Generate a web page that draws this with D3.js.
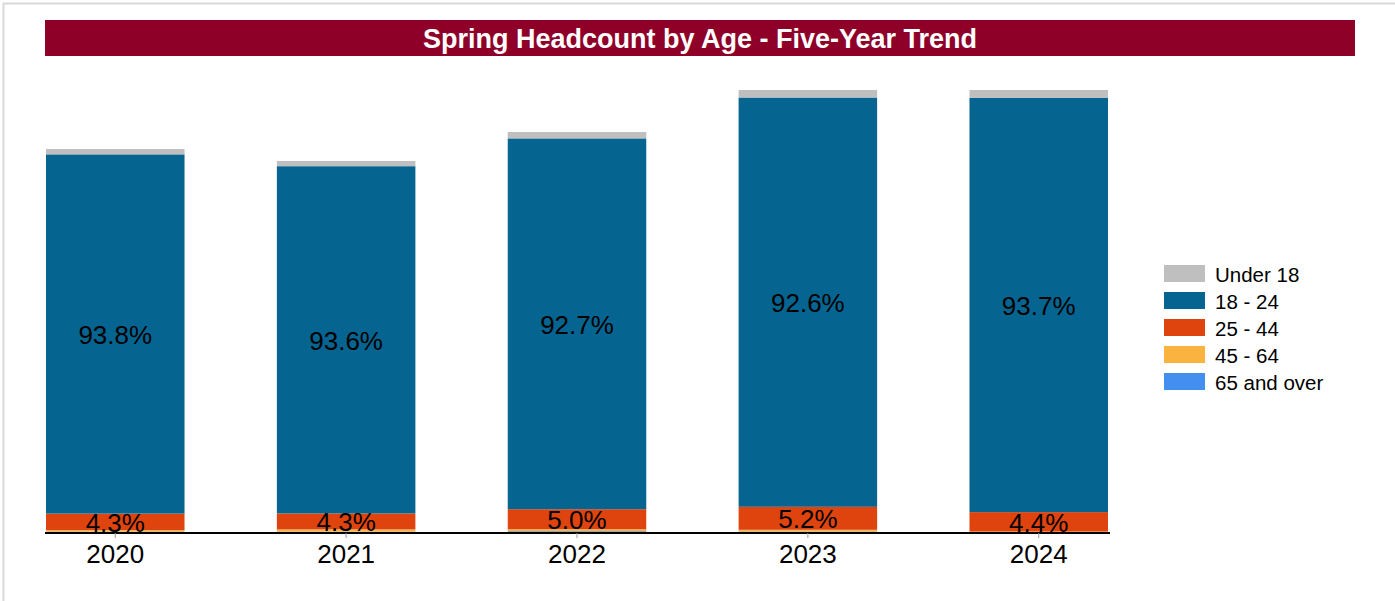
<!DOCTYPE html>
<html>
<head>
<meta charset="utf-8">
<script src="https://cdn.jsdelivr.net/npm/d3@7"></script>
<style>
  body { margin: 0; background: #fff; font-family: "Liberation Sans", Arial, sans-serif; }
  svg { display: block; }
</style>
</head>
<body>
<script>
(function(){

//pseudo-global data
var years = ["2020", "2021", "2022", "2023", "2024"];
var groups = ["65 and over", "45 - 64", "25 - 44", "18 - 24", "Under 18"]; //bottom to top
var legendOrder = ["Under 18", "18 - 24", "25 - 44", "45 - 64", "65 and over"];
var totals = [19150, 18550, 20000, 22100, 22100]; //estimated headcount
var pctUnder18 = [1.4, 1.4, 1.6, 1.7, 1.8];
var pct18to24 = [93.8, 93.6, 92.7, 92.6, 93.7];
var pct25to44 = [4.3, 4.3, 5.0, 5.2, 4.4];
var pct45to64 = [0.4, 0.6, 0.5, 0.4, 0.1];
var pct65over = [0.1, 0.1, 0.2, 0.1, 0.0];
var colors = {
  "Under 18": "#bfbfbf",
  "18 - 24": "#066491",
  "25 - 44": "#e0440e",
  "45 - 64": "#fbb33f",
  "65 and over": "#438ff0"
};
var titleText = "Spring Headcount by Age - Five-Year Trend";

var width = 1395, height = 601;

var svg = d3.select("body").append("svg")
    .attr("width", width)
    .attr("height", height);

//outer frame
svg.append("rect")
    .attr("x", 3.5).attr("y", 3.5)
    .attr("width", width + 10).attr("height", height + 10)
    .attr("fill", "none")
    .attr("stroke", "#d9d9d9")
    .attr("stroke-width", 2);

//title bar
svg.append("rect")
    .attr("x", 45).attr("y", 20)
    .attr("width", 1310).attr("height", 36)
    .attr("fill", "#8f0029");
svg.append("text")
    .attr("x", 700).attr("y", 39)
    .attr("text-anchor", "middle")
    .attr("dominant-baseline", "central")
    .attr("fill", "#fff")
    .style("font-weight", "bold")
    .style("font-size", "27px")
    .text(titleText);

//build rows
var pcts = {
  "Under 18": pctUnder18,
  "18 - 24": pct18to24,
  "25 - 44": pct25to44,
  "45 - 64": pct45to64,
  "65 and over": pct65over
};
var rows = years.map(function(y, i){
  var r = { year: y };
  groups.forEach(function(g){ r[g] = totals[i] * pcts[g][i] / 100; });
  r.idx = i;
  return r;
});

var baseY = 532;
var x = d3.scaleBand()
    .domain(years)
    .range([46, 1108])
    .paddingInner(0.4)
    .paddingOuter(0);
var y = d3.scaleLinear()
    .domain([0, 24000])
    .range([baseY, baseY - 480]);

var series = d3.stack().keys(groups)(rows);

var layers = svg.selectAll(".layer")
    .data(series)
    .enter()
    .append("g")
    .attr("class", "layer")
    .attr("fill", function(d){ return colors[d.key]; });

layers.selectAll("rect")
    .data(function(d){ return d; })
    .enter()
    .append("rect")
    .attr("x", function(d){ return x(d.data.year); })
    .attr("width", x.bandwidth())
    .attr("y", function(d){ return y(d[1]); })
    .attr("height", function(d){ return y(d[0]) - y(d[1]); });

//percentage labels for 18-24 and 25-44
["18 - 24", "25 - 44"].forEach(function(key){
  var s = series.filter(function(d){ return d.key == key; })[0];
  svg.selectAll(".lbl" + key.replace(/\W/g, ""))
      .data(s)
      .enter()
      .append("text")
      .attr("x", function(d){ return x(d.data.year) + x.bandwidth() / 2; })
      .attr("y", function(d){ return (y(d[0]) + y(d[1])) / 2 + 1; })
      .attr("text-anchor", "middle")
      .attr("dominant-baseline", "central")
      .style("font-size", "26px")
      .attr("fill", "#000")
      .text(function(d){ return pcts[key][d.data.idx].toFixed(1) + "%"; });
});

//x axis
var axis = svg.append("g")
    .attr("transform", "translate(0," + (baseY + 1) + ")")
    .call(d3.axisBottom(x).tickSize(5).tickSizeOuter(0));
axis.select(".domain")
    .attr("stroke", "#000")
    .attr("stroke-width", 2)
    .attr("d", "M45,0H1110");
axis.selectAll(".tick line").attr("stroke", "#999");
axis.selectAll(".tick text")
    .attr("y", 12)
    .attr("fill", "#000")
    .style("font-size", "26px")
    .style("font-family", "'Liberation Sans', Arial, sans-serif");

//legend
var legend = svg.selectAll(".legend")
    .data(legendOrder)
    .enter()
    .append("g")
    .attr("class", "legend")
    .attr("transform", function(d, i){ return "translate(1164," + (265 + i * 27) + ")"; });
legend.append("rect")
    .attr("width", 41).attr("height", 17)
    .attr("fill", function(d){ return colors[d]; });
legend.append("text")
    .attr("x", 51).attr("y", 9)
    .attr("dominant-baseline", "central")
    .style("font-size", "20.5px")
    .attr("fill", "#000")
    .text(function(d){ return d; });

})();
</script>
</body>
</html>
